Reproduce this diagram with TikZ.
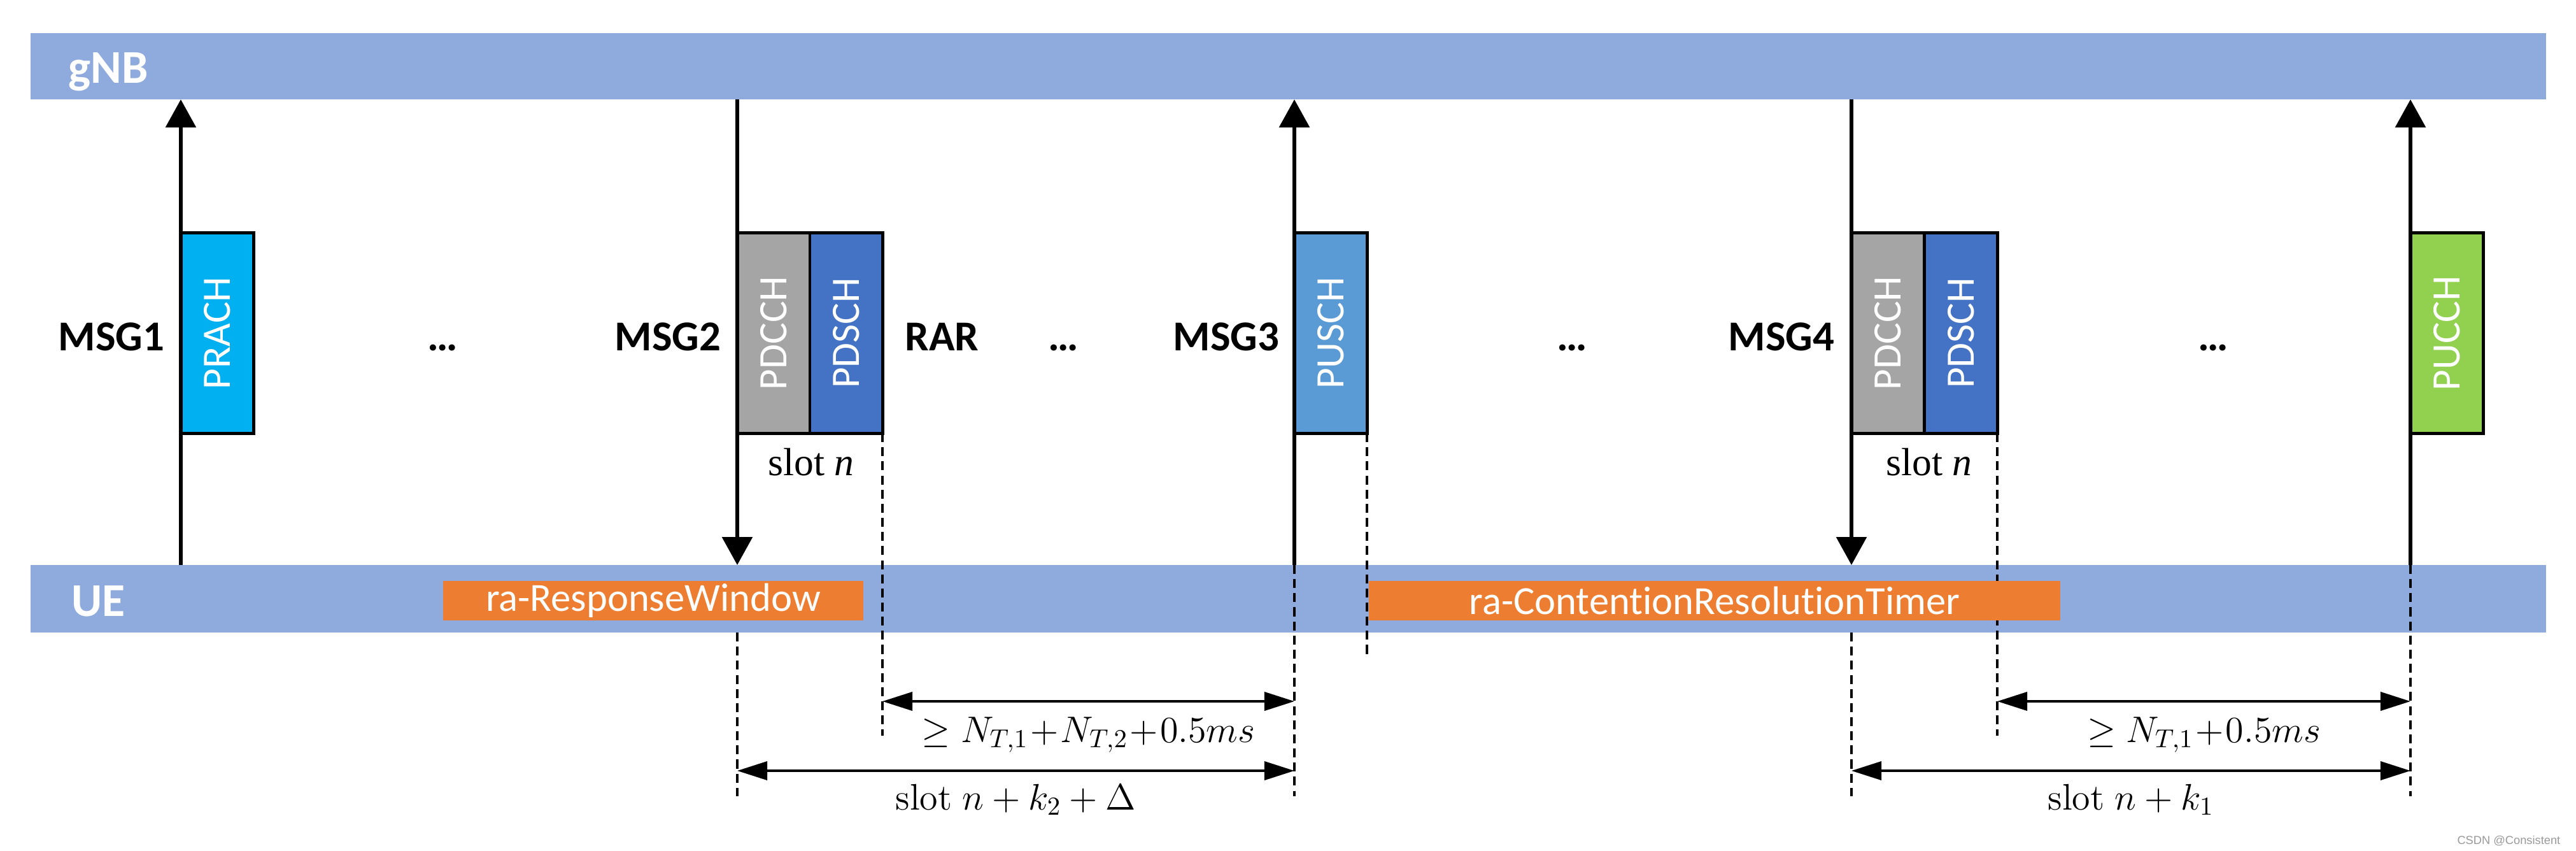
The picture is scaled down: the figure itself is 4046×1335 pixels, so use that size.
\RequirePackage{fix-cm}
\documentclass[tikz,border=0pt]{standalone}
\usepackage[no-math]{fontspec}
\setmainfont{Carlito}[Ligatures=NoCommon]
\newfontfamily\slotfont{Liberation Serif}
\newfontfamily\markfont{Liberation Sans}
\usetikzlibrary{arrows.meta}
\definecolor{barblue}{HTML}{8FAADC}
\definecolor{prachc}{HTML}{00B0F0}
\definecolor{pdcchc}{HTML}{A5A5A5}
\definecolor{pdschc}{HTML}{4472C4}
\definecolor{puschc}{HTML}{5B9BD5}
\definecolor{pucchc}{HTML}{92D050}
\definecolor{timerc}{HTML}{ED7D31}
\begin{document}
\begin{tikzpicture}[x=0.01cm,y=-0.01cm,
  bar/.style={fill=barblue,inner sep=0pt,outer sep=0pt,anchor=north west,minimum width=39.49cm},
  chbox/.style={draw,line width=1.4pt,inner sep=0pt,outer sep=0pt,minimum width=1.14cm,minimum height=3.14cm,text=white,font=\fontsize{18}{18}\selectfont},
  timer/.style={fill=timerc,inner sep=0pt,outer sep=0pt,minimum height=0.62cm,text=white,font=\fontsize{17.8}{18}\selectfont},
  msg/.style={inner sep=0pt,font=\bfseries\fontsize{19}{19}\selectfont},
  sig/.style={line width=1.7pt,-{Triangle[length=0.44cm,width=0.47cm]}},
  guide/.style={line width=1pt,dash pattern=on 4pt off 2.3pt},
  span/.style={line width=1.1pt,{Triangle[length=0.47cm,width=0.29cm]}-{Triangle[length=0.47cm,width=0.29cm]}},
  lbl/.style={inner sep=0pt,anchor=base,font=\fontsize{16.5}{18}\selectfont}]
\useasboundingbox (0,0) rectangle (4046,1335);
% gNB and UE bars
\node[bar,minimum height=1.04cm] (gnbbar) at (48,52) {};
\node[bar,minimum height=1.06cm] (uebar) at (48,887) {};
\node[anchor=base west,inner sep=0pt,text=white,font=\bfseries\fontsize{21}{21}\selectfont] (gnb) at (107,130) {gNB};
\node[anchor=base west,inner sep=0pt,text=white,font=\bfseries\fontsize{21}{21}\selectfont] (ue) at (112,967) {UE};
% levels for the lower ends
\coordinate (lowA) at (0,1250);
\coordinate (lowB) at (0,1155);
\coordinate (lowC) at (0,1032);
\coordinate (spanA) at (0,1101);
\coordinate (spanB) at (0,1210);
% channels
\node[chbox,fill=prachc] (prach) at (341,523) {\rotatebox{90}{PRACH}};
\node[chbox,fill=pdcchc] (pdcch1) at (1215,523) {\rotatebox{90}{PDCCH}};
\node[chbox,fill=pdschc] (pdsch1) at (1329,523) {\rotatebox{90}{PDSCH}};
\node[chbox,fill=puschc] (pusch) at (2090,523) {\rotatebox{90}{PUSCH}};
\node[chbox,fill=pdcchc] (pdcch2) at (2965,523) {\rotatebox{90}{PDCCH}};
\node[chbox,fill=pdschc] (pdsch2) at (3080,523) {\rotatebox{90}{PDSCH}};
\node[chbox,fill=pucchc] (pucch) at (3843,523) {\rotatebox{90}{PUCCH}};
% dashed guides
\draw[guide] (pdcch1.west |- uebar.south) -- (pdcch1.west |- lowA);
\draw[guide] (pdsch1.south east) -- (pdsch1.east |- lowB);
\draw[guide] (pusch.west |- uebar.north) -- (pusch.west |- lowA);
\draw[guide] (pusch.south east) -- (pusch.east |- lowC);
\draw[guide] (pdcch2.west |- uebar.south) -- (pdcch2.west |- lowA);
\draw[guide] (pdsch2.south east) -- (pdsch2.east |- lowB);
\draw[guide] (pucch.west |- uebar.north) -- (pucch.west |- lowA);
% messages
\draw[sig] (prach.west |- uebar.north) -- (prach.west |- gnbbar.south);
\draw[sig] (pdcch1.west |- gnbbar.south) -- (pdcch1.west |- uebar.north);
\draw[sig] (pusch.west |- uebar.north) -- (pusch.west |- gnbbar.south);
\draw[sig] (pdcch2.west |- gnbbar.south) -- (pdcch2.west |- uebar.north);
\draw[sig] (pucch.west |- uebar.north) -- (pucch.west |- gnbbar.south);
% timers
\node[timer,minimum width=6.59cm] (rw) at (1026,943) {ra-ResponseWindow};
\node[timer,minimum width=10.85cm] (crt) at (2693,943) {ra-ContentionResolutionTimer};
% labels
\node[msg,anchor=base east] (msg1) at (259,550) {MSG1};
\node[msg,anchor=base east] (msg2) at (1133,550) {MSG2};
\node[msg,anchor=base west] (rar) at (1421,550) {RAR};
\node[msg,anchor=base east] (msg3) at (2010,550) {MSG3};
\node[msg,anchor=base east] (msg4) at (2882,550) {MSG4};
\node[msg,anchor=base] (dots1) at (695,550) {…};
\node[msg,anchor=base] (dots2) at (1670,550) {…};
\node[msg,anchor=base] (dots3) at (2469,550) {…};
\node[msg,anchor=base] (dots4) at (3476,550) {…};
\node[inner sep=0pt,anchor=base,font=\slotfont\fontsize{17.5}{18}\selectfont] (slot1) at (1274,746) {slot \textit{n}};
\node[inner sep=0pt,anchor=base,font=\slotfont\fontsize{17.5}{18}\selectfont] (slot2) at (3030,746) {slot \textit{n}};
% timing spans
\draw[span] (pdsch1.east |- spanA) -- (pusch.west |- spanA) node[lbl,midway,yshift=-0.64cm] {$\geq N_{T,1}\mkern1mu{+}\mkern1mu N_{T,2}\mkern1mu{+}\mkern1mu 0.5ms$};
\draw[span] (pdcch1.west |- spanB) -- (pusch.west |- spanB) node[lbl,midway,yshift=-0.61cm] {$\mathrm{slot}\;n+k_2+\Delta$};
\draw[span] (pdsch2.east |- spanA) -- (pucch.west |- spanA) node[lbl,midway,yshift=-0.64cm] {$\geq N_{T,1}\mkern1mu{+}\mkern1mu 0.5ms$};
\draw[span] (pdcch2.west |- spanB) -- (pucch.west |- spanB) node[lbl,midway,yshift=-0.61cm] {$\mathrm{slot}\;n+k_1$};
\node[anchor=base east,inner sep=0pt,text=black!40,font=\markfont\fontsize{5.2}{6}\selectfont] (mark) at (4022,1325) {CSDN @Consistent};
\end{tikzpicture}
\end{document}
